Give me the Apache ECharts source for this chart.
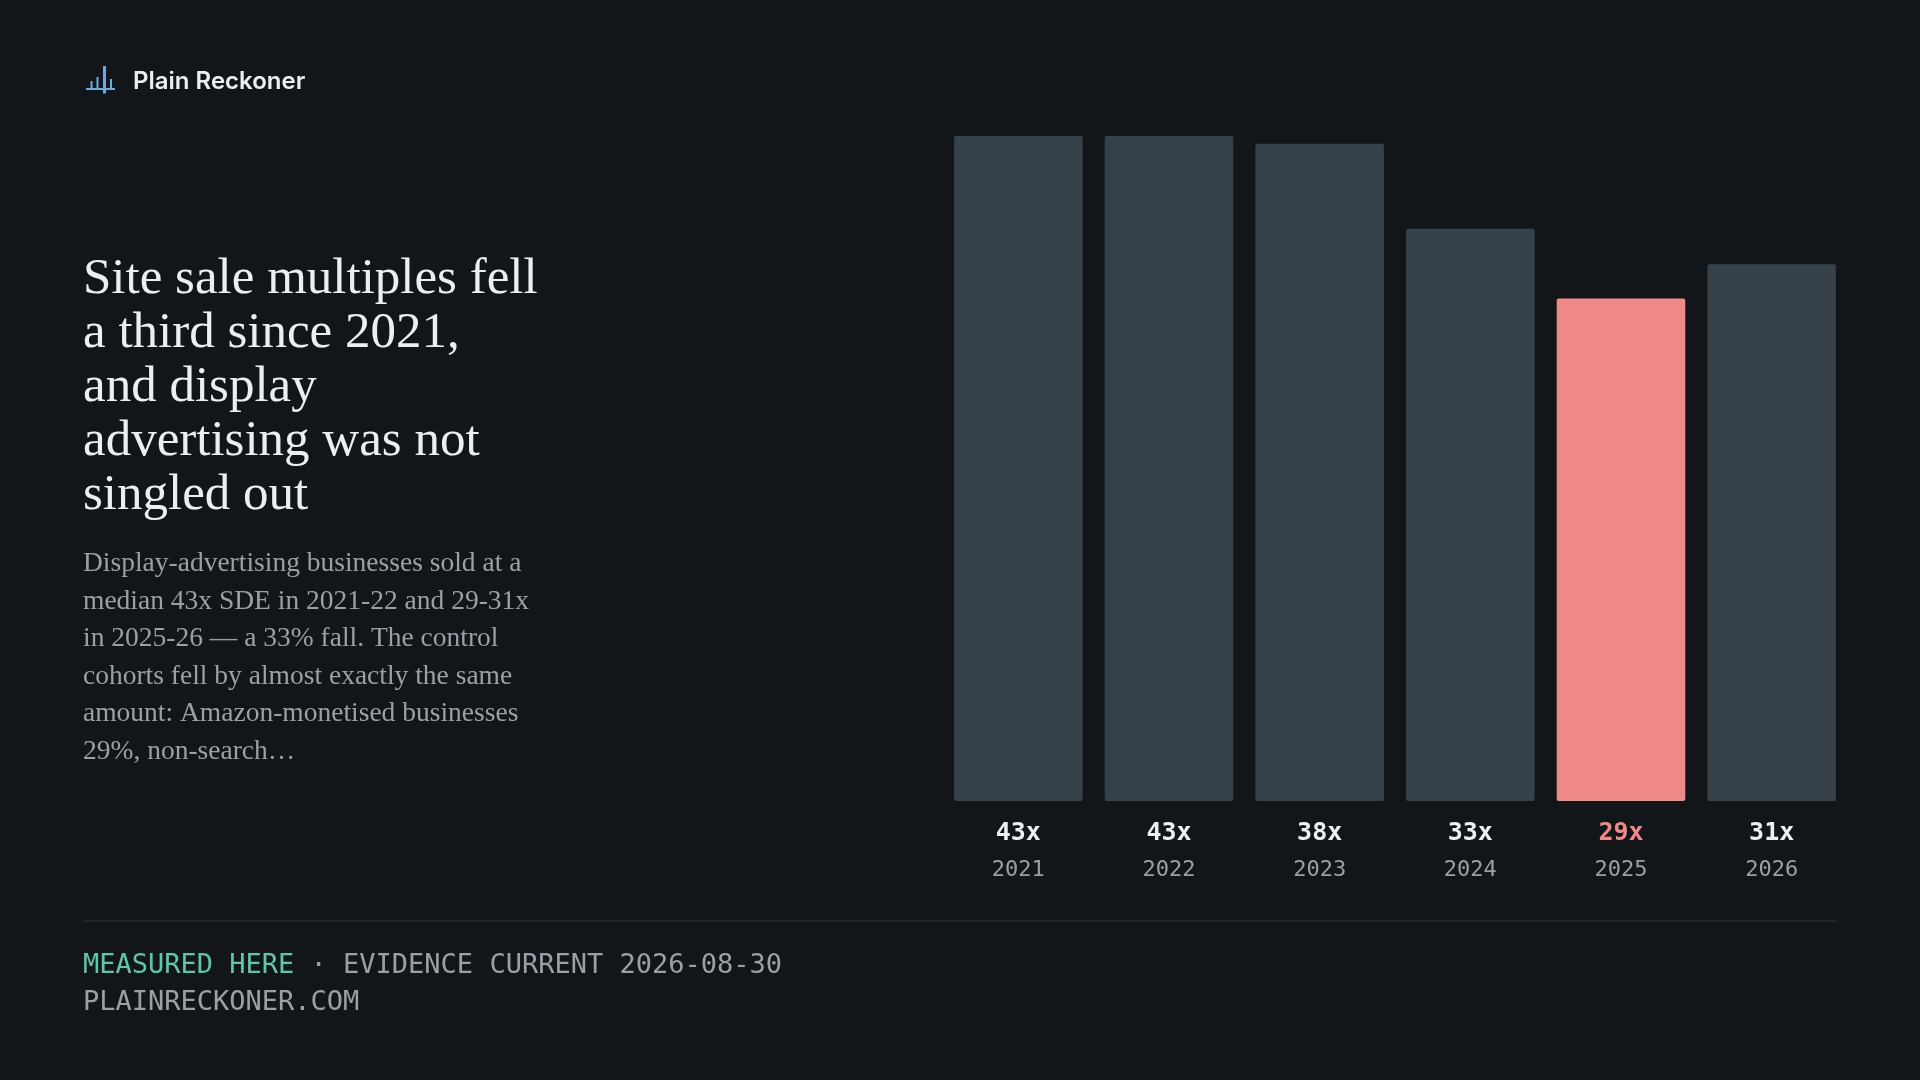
<!DOCTYPE html>
<html>
<head>
<meta charset="utf-8">
<script src="https://cdn.jsdelivr.net/npm/echarts@6/dist/echarts.min.js"></script>
<style>
html,body{margin:0;padding:0;background:#121619;}
#chart{width:1920px;height:1080px;}
</style>
</head>
<body>
<div id="chart"></div>
<script>
// ---- data ----
const years = ['2021', '2022', '2023', '2024', '2025', '2026'];
const valueLabels = ['43x', '43x', '38x', '33x', '29x', '31x'];
// bar lengths (same units as the 2021 bar = 43)
const barValues = [43, 43, 42.5, 37.0, 32.5, 34.7];
const highlightYear = '2025';
const titleLines = ['Site sale multiples fell', 'a third since 2021,', 'and display', 'advertising was not', 'singled out'];
const bodyLines = [
  'Display-advertising businesses sold at a',
  'median 43x SDE in 2021-22 and 29-31x',
  'in 2025-26 \u2014 a 33% fall. The control',
  'cohorts fell by almost exactly the same',
  'amount: Amazon-monetised businesses',
  '29%, non-search\u2026'
];
const brand = 'Plain Reckoner';
const footerTag = 'MEASURED HERE';
const footerRest = ' \u00b7 EVIDENCE CURRENT 2026-08-30';
const footerSite = 'PLAINRECKONER.COM';

const BG = '#121619', BAR = '#374149', HI = '#f08a87', TEAL = '#5cc8a6', GREY = '#9aa0a7', WHITE = '#eceff2';
const MONO = '"DejaVu Sans Mono", monospace';
const hiIdx = years.indexOf(highlightYear);

const chart = echarts.init(document.getElementById('chart'), null, {renderer: 'canvas'});

const iconColor = '#6fa8dc';
const icon = [
  {type: 'line', shape: {x1: 86, y1: 89, x2: 115, y2: 89}, style: {stroke: iconColor, lineWidth: 2}},
  {type: 'line', shape: {x1: 91.5, y1: 81, x2: 91.5, y2: 89}, style: {stroke: iconColor, lineWidth: 2}},
  {type: 'line', shape: {x1: 97.5, y1: 77, x2: 97.5, y2: 89}, style: {stroke: iconColor, lineWidth: 2}},
  {type: 'line', shape: {x1: 104.5, y1: 66, x2: 104.5, y2: 93.5}, style: {stroke: iconColor, lineWidth: 3}},
  {type: 'line', shape: {x1: 111, y1: 79, x2: 111, y2: 89}, style: {stroke: iconColor, lineWidth: 2}}
];

chart.setOption({
  backgroundColor: BG,
  animation: false,
  grid: {left: 943, right: 73, top: 136, bottom: 279},
  xAxis: {
    type: 'category',
    data: years,
    axisLine: {show: false},
    axisTick: {show: false},
    axisLabel: {
      margin: 13.5,
      formatter: function (val, idx) {
        return '{' + (idx === hiIdx ? 'h' : 'v') + '|' + valueLabels[idx] + '}\n{y|' + val + '}';
      },
      rich: {
        v: {fontFamily: MONO, fontWeight: 'bold', fontSize: 25, color: WHITE, lineHeight: 37},
        h: {fontFamily: MONO, fontWeight: 'bold', fontSize: 25, color: HI, lineHeight: 37},
        y: {fontFamily: MONO, fontSize: 22, color: GREY, lineHeight: 37}
      }
    }
  },
  yAxis: {type: 'value', min: 0, max: 43, show: false, splitLine: {show: false}},
  series: [{
    type: 'bar',
    barWidth: 128.6,
    data: barValues.map((v, i) => ({value: v, itemStyle: {color: i === hiIdx ? HI : BAR}})),
    itemStyle: {borderRadius: 2}
  }],
  graphic: icon.concat([
    {type: 'text', left: 133, top: 70, style: {text: brand, font: '600 24px Inter, "Noto Sans", sans-serif', fill: WHITE}},
    {type: 'text', x: 83, y: 253, style: {text: titleLines.join('\n'), font: '51px "Liberation Serif", serif', lineHeight: 54, fill: WHITE, verticalAlign: 'top'}},
    {type: 'text', x: 83, y: 545, style: {text: bodyLines.join('\n'), font: '27.5px "Liberation Serif", serif', lineHeight: 37.6, fill: GREY, verticalAlign: 'top'}},
    {type: 'line', shape: {x1: 83, y1: 921, x2: 1837, y2: 921}, style: {stroke: '#262b31', lineWidth: 1.5}},
    {type: 'text', x: 83, y: 947.5, style: {
      text: '{t|' + footerTag + '}{g|' + footerRest + '}\n{g|' + footerSite + '}',
      verticalAlign: 'top',
      rich: {
        t: {font: '27px ' + MONO, fill: TEAL, lineHeight: 37},
        g: {font: '27px ' + MONO, fill: GREY, lineHeight: 37}
      }
    }}
  ])
});
</script>
</body>
</html>
